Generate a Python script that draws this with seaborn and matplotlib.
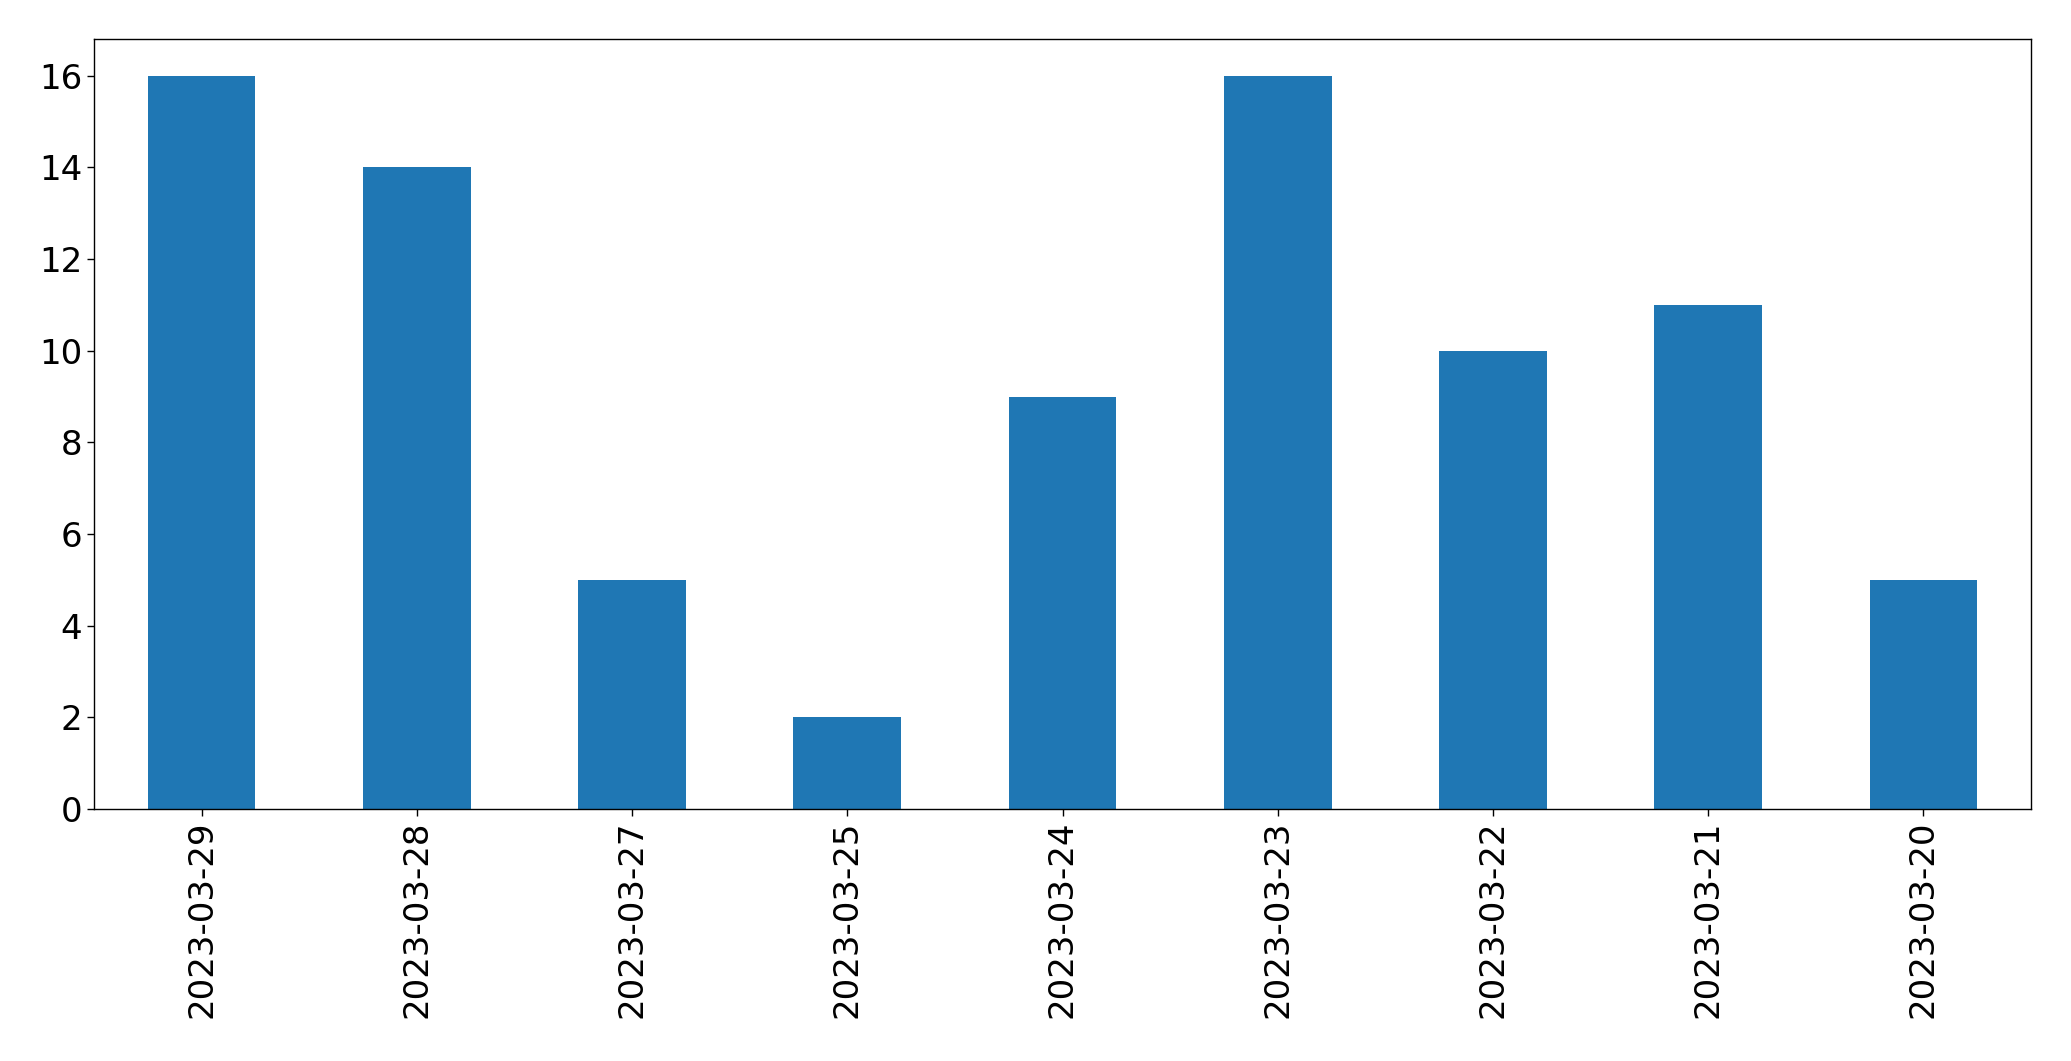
import matplotlib
matplotlib.use("Agg")
import matplotlib.pyplot as plt
import seaborn as sns
import pandas as pd

dates = ["2023-03-29", "2023-03-28", "2023-03-27", "2023-03-25", "2023-03-24",
         "2023-03-23", "2023-03-22", "2023-03-21", "2023-03-20"]
counts = [16, 14, 5, 2, 9, 16, 10, 11, 5]

df = pd.DataFrame({"date": dates, "count": counts})

sns.set_style("white")
plt.rcParams['font.family'] = ['DejaVu Sans']
plt.rcParams['text.color'] = 'black'
plt.rcParams['xtick.color'] = 'black'
plt.rcParams['ytick.color'] = 'black'

fig = plt.figure(figsize=(20.71, 10.61), dpi=100)
ax = fig.add_axes([94/2071, 1 - 809/1061, (2031-94)/2071, (809-39)/1061])
sns.barplot(data=df, x="date", y="count", order=dates, color="#1f77b4",
            saturation=1, width=0.5, linewidth=0, ax=ax)
ax.set_xlim(-0.5, len(dates) - 0.5)
ax.set_ylim(0, 16.8)
ax.set_xlabel("")
ax.set_ylabel("")
ax.tick_params(axis="both", labelsize=24.5, length=4.9, width=1, colors="black",
               bottom=True, left=True)
plt.setp(ax.get_xticklabels(), rotation=90)
for s in ax.spines.values():
    s.set_color("black")
    s.set_linewidth(1)
fig.savefig("out.png", dpi=100)
